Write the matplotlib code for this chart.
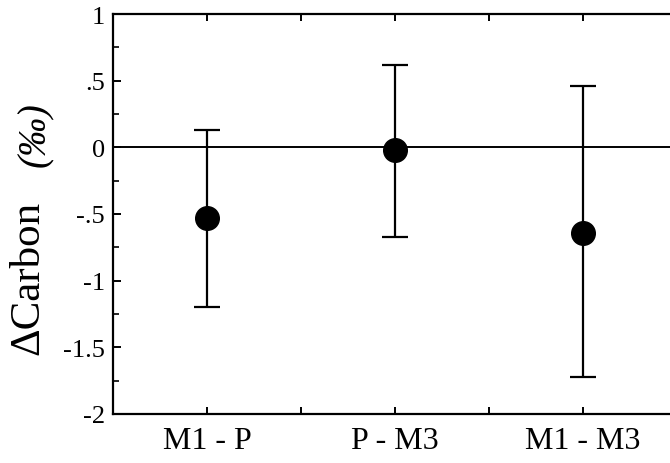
import matplotlib
matplotlib.use("Agg")
import matplotlib.pyplot as plt
from matplotlib.ticker import MultipleLocator, FixedLocator

# data
pairs = ["M1 - P", "P - M3", "M1 - M3"]
pair_x = [1, 3, 5]
means = [-0.53, -0.02, -0.64]
upper = [0.13, 0.615, 0.46]
lower = [-1.20, -0.675, -1.72]
yticks = [1, 0.5, 0, -0.5, -1, -1.5, -2]
ytick_labels = ["1", ".5", "0", "-.5", "-1", "-1.5", "-2"]

serif = ["Liberation Serif", "DejaVu Serif"]
plt.rcParams["font.family"] = serif

fig = plt.figure(figsize=(6.7, 4.64), dpi=100)
ax = fig.add_axes([113 / 670, 1 - 415 / 464, 1 - 113 / 670, (415 - 15) / 464])

yerr = [[m - lo for m, lo in zip(means, lower)], [up - m for m, up in zip(means, upper)]]
ax.errorbar(pair_x, means, yerr=yerr, fmt="o", color="black", ms=17,
            elinewidth=1.6, capsize=9.5, capthick=1.6, zorder=3)
ax.axhline(0, color="black", lw=1.4, zorder=1)

ax.set_xlim(0, (670 - 113) / 94)
ax.set_ylim(-2, 1)
ax.spines["right"].set_visible(False)
for s in ("left", "top", "bottom"):
    ax.spines[s].set_linewidth(1.6)

# labelled ticks under the points, plain ticks in between
ax.set_xticks(pair_x)
ax.set_xticklabels(pairs)
ax.xaxis.set_minor_locator(FixedLocator([2, 4]))
ax.tick_params(axis="x", which="both", direction="in", top=True, length=5, width=1.4)
ax.tick_params(axis="x", which="major", pad=9, labelsize=23)

ax.set_yticks(yticks)
ax.set_yticklabels(ytick_labels)
ax.yaxis.set_minor_locator(MultipleLocator(0.25))
ax.tick_params(axis="y", which="major", direction="in", length=6, width=1.4,
               labelsize=19, pad=6)
ax.tick_params(axis="y", which="minor", direction="in", length=4, width=1.2)

fig.text(28 / 670, 1 - 278 / 464, "\u0394Carbon", rotation=90, ha="center",
         va="center", fontsize=31)
fig.text(36 / 670, 1 - 135 / 464, "(\u2030)", rotation=90, ha="center",
         va="center", fontsize=28, style="italic")

fig.savefig("out.png", dpi=100)
